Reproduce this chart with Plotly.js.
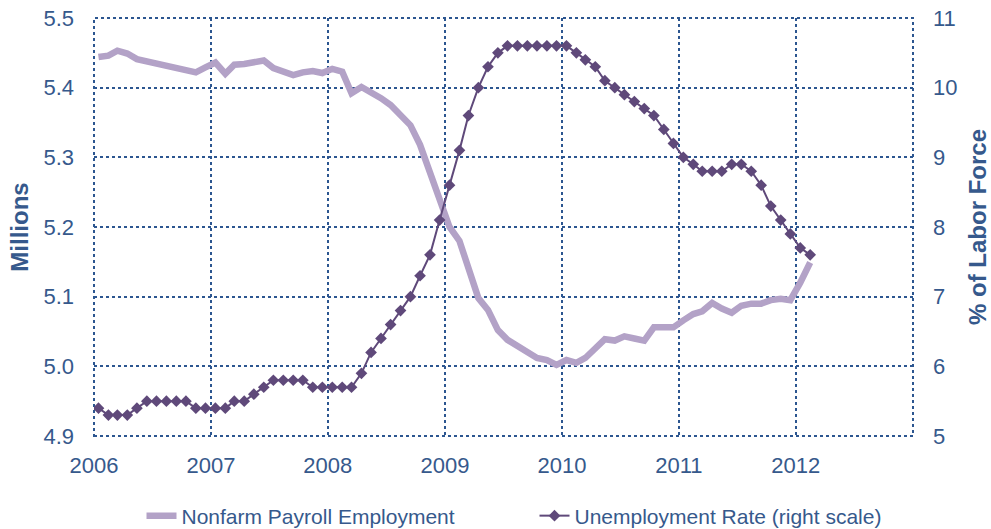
<!DOCTYPE html>
<html>
<head>
<meta charset="utf-8">
<script src="https://cdn.plot.ly/plotly-3.0.1.min.js"></script>
<style>html,body{margin:0;padding:0;background:#fff;}#chart{width:991px;height:529px;}</style>
</head>
<body>
<div id="chart"></div>
<script>
// Monthly series, Jan 2006 - Feb 2012
var startYear = 2006;
var startMonth = 1;

var payrollMillions = [
  5.444, 5.446, 5.453, 5.449, 5.441, 5.438, 5.434, 5.432, 5.430, 5.425, 5.422, 5.429,
  5.436, 5.420, 5.433, 5.434, 5.436, 5.439, 5.428, 5.422, 5.418, 5.422, 5.424, 5.421,
  5.427, 5.423, 5.392, 5.401, 5.394, 5.385, 5.375, 5.362, 5.346, 5.318, 5.280, 5.240,
  5.200, 5.180, 5.140, 5.098, 5.081, 5.052, 5.038, 5.030, 5.021, 5.012, 5.009, 5.002,
  5.009, 5.005, 5.012, 5.025, 5.039, 5.037, 5.043, 5.040, 5.037, 5.056, 5.057, 5.056,
  5.066, 5.075, 5.079, 5.091, 5.083, 5.077, 5.087, 5.090, 5.090, 5.095, 5.097, 5.095,
  5.120, 5.149
];

var unemploymentRate = [
  5.4, 5.3, 5.3, 5.3, 5.4, 5.5, 5.5, 5.5, 5.5, 5.5, 5.4, 5.4,
  5.4, 5.4, 5.5, 5.5, 5.6, 5.7, 5.8, 5.8, 5.8, 5.8, 5.7, 5.7,
  5.7, 5.7, 5.7, 5.9, 6.2, 6.4, 6.6, 6.8, 7.0, 7.3, 7.6, 8.1,
  8.6, 9.1, 9.6, 10.0, 10.3, 10.5, 10.6, 10.6, 10.6, 10.6, 10.6, 10.6,
  10.6, 10.5, 10.4, 10.3, 10.1, 10.0, 9.9, 9.8, 9.7, 9.6, 9.4, 9.2,
  9.0, 8.9, 8.8, 8.8, 8.8, 8.9, 8.9, 8.8, 8.6, 8.3, 8.1, 7.9,
  7.7, 7.6
];

var yearTicks = ['2006', '2007', '2008', '2009', '2010', '2011', '2012'];
var seriesNames = ['Nonfarm Payroll Employment', 'Unemployment Rate (right scale)'];

function monthDates(n) {
  var out = [];
  for (var i = 0; i < n; i++) {
    var m = startMonth - 1 + i;
    var y = startYear + Math.floor(m / 12);
    var mm = (m % 12) + 1;
    out.push(y + '-' + (mm < 10 ? '0' : '') + mm + '-15');
  }
  return out;
}

var txtColor = '#36598C';
var gridColor = '#2C5690';
var fontFam = 'Liberation Sans, Arial, sans-serif';

var traces = [
  {
    x: monthDates(payrollMillions.length), y: payrollMillions, name: seriesNames[0],
    type: 'scatter', mode: 'lines',
    line: {color: '#B3A2C7', width: 6.5},
    yaxis: 'y'
  },
  {
    x: monthDates(unemploymentRate.length), y: unemploymentRate, name: seriesNames[1],
    type: 'scatter', mode: 'lines+markers',
    line: {color: '#5F497A', width: 2},
    marker: {symbol: 'diamond', size: 9, color: '#5F497A'},
    yaxis: 'y2'
  }
];

var layout = {
  width: 991, height: 529,
  margin: {l: 94, r: 78, t: 18, b: 93},
  paper_bgcolor: '#ffffff', plot_bgcolor: '#ffffff',
  font: {family: fontFam, color: txtColor, size: 22},
  showlegend: true,
  legend: {
    orientation: 'h', x: 0.058, xanchor: 'left',
    yref: 'container', y: 0.0246, yanchor: 'middle',
    font: {family: fontFam, size: 21, color: txtColor},
    entrywidth: 348, traceorder: 'normal', bgcolor: 'rgba(0,0,0,0)'
  },
  xaxis: {
    type: 'date',
    range: ['2006-01-01', '2013-01-01'],
    tickmode: 'array',
    tickvals: yearTicks.map(function (y) { return y + '-01-01'; }),
    ticktext: yearTicks,
    showgrid: true, gridcolor: gridColor, griddash: 'dot', gridwidth: 2,
    showline: false, zeroline: false, ticks: '',
    ticklabelstandoff: 14,
    tickfont: {size: 22, color: txtColor}
  },
  yaxis: {
    range: [4.9, 5.5], dtick: 0.1, tick0: 4.9, tickformat: '.1f',
    showgrid: true, gridcolor: gridColor, griddash: 'dot', gridwidth: 2,
    zeroline: false, showline: false, ticks: '',
    ticklabelstandoff: 19,
    tickfont: {size: 22, color: txtColor},
    title: {text: 'Millions', font: {size: 24, color: txtColor, weight: 'bold'}, standoff: 8}
  },
  yaxis2: {
    overlaying: 'y', side: 'right',
    range: [5, 11], dtick: 1, tick0: 5,
    showgrid: false, zeroline: false, showline: false, ticks: '',
    ticklabelstandoff: 19,
    tickfont: {size: 22, color: txtColor},
    title: {text: '% of Labor Force', font: {size: 24, color: txtColor, weight: 'bold'}, standoff: 16}
  },
  shapes: [
    {type: 'rect', xref: 'paper', yref: 'paper', x0: 0, x1: 1, y0: 0, y1: 1,
     line: {color: gridColor, width: 2, dash: 'dot'}, layer: 'below'}
  ]
};

Plotly.newPlot('chart', traces, layout, {displayModeBar: false, staticPlot: true});
</script>
</body>
</html>
